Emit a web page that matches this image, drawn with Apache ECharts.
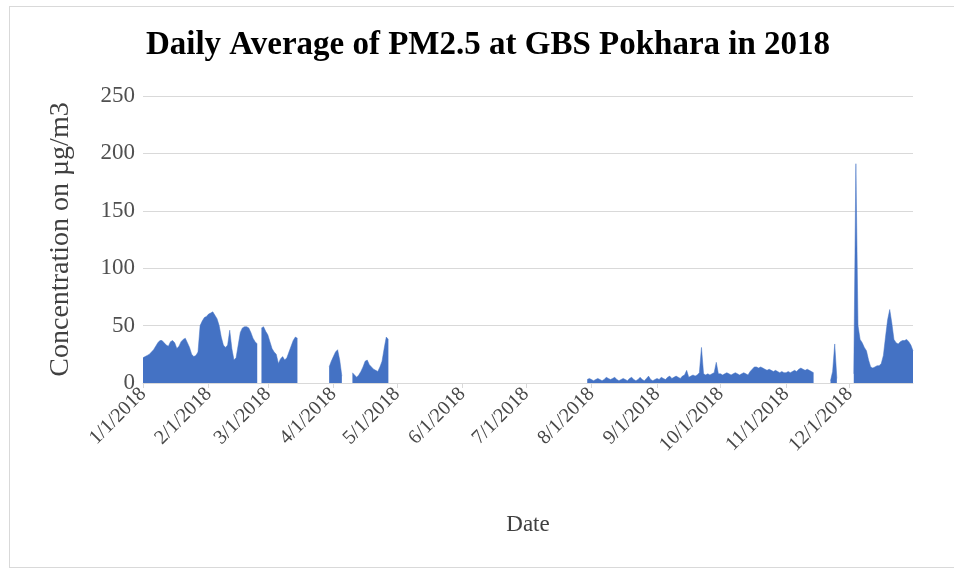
<!DOCTYPE html>
<html>
<head>
<meta charset="utf-8">
<title>Daily Average of PM2.5 at GBS Pokhara in 2018</title>
<script src="https://cdn.jsdelivr.net/npm/echarts@6/dist/echarts.min.js"></script>
<style>
  html, body { margin: 0; padding: 0; background: #fff; }
  #chart { position: absolute; left: 0; top: 0; width: 954px; height: 571px; }
  .frame {
    position: absolute; left: 9px; top: 6px; width: 960px; height: 560px;
    border: 1px solid #d9d9d9; pointer-events: none;
  }
</style>
</head>
<body>
<div id="chart"></div>
<div class="frame"></div>
<script>
// daily PM2.5 (ug/m3), blank days are null
const janToMar = [
  22, 23, 24, 25, 27, 29, 32, 35, 37, 37,
  35, 33, 32, 36, 37, 35, 30, 32, 36, 38,
  39, 35, 31, 25, 23, 24, 27, 50, 54, 57,
  58, 60, 61, 62, 59, 56, 50, 40, 33, 31,
  33, 46, 30, 20, 22, 33, 44, 48, 49, 49,
  48, 44, 39, 36, 34, null, 48, 49, 45, 42,
  36, 30, 27, 25, 17, 21, 23, 20, 22, 27,
  32, 37, 40, 39
];
const lateMar = [14, 19, 23, 27, 29, 20, 6];
const april = [9, 7, 5, 7, 10, 14, 19, 20, 16, 14, 12, 11, 10, 14, 19, 30, 40, 38];
const julToNov = [
  3, 4,
  // Aug
  3, 2, 3, 4, 3, 2, 3, 5, 4, 3, 4, 5, 3, 2, 3, 4, 3, 2, 4, 5, 3, 2, 3, 5, 3, 2, 4, 6, 3, 2, 3,
  // Sep
  4, 3, 5, 4, 3, 5, 6, 4, 5, 6, 5, 4, 6, 7, 11, 5, 6, 7, 6, 7, 9, 31, 8, 7, 8, 7, 8, 9, 18, 8,
  // Oct
  8, 7, 8, 9, 8, 7, 8, 9, 8, 7, 8, 9, 8, 7, 10, 12, 14, 14, 13, 14, 13, 12, 11, 12, 11, 10, 11, 10, 9, 10, 9,
  // Nov
  9, 10, 9, 10, 11, 10, 12, 13, 12, 11, 12, 11, 10, 9
];
const novSpike = [2, 10, 34, 4];
const december = [
  8, 191, 50, 38, 35, 31, 28, 20, 14, 13, 14, 15, 15, 17, 24,
  40, 55, 64, 52, 38, 35, 34, 36, 37, 37, 38, 36, 33, 28
];
const segmentStarts = [
  ['2018-01-01', janToMar],
  ['2018-03-30', lateMar],
  ['2018-04-10', april],
  ['2018-07-30', julToNov],
  ['2018-11-22', novSpike],
  ['2018-12-03', december]
];
const yTicks = [0, 50, 100, 150, 200, 250];

// one category per day of 2018
const dayMs = 24 * 3600 * 1000;
const start = Date.UTC(2018, 0, 1);
const dates = [];
for (let i = 0; i < 365; i++) {
  const d = new Date(start + i * dayMs);
  dates.push((d.getUTCMonth() + 1) + '/' + d.getUTCDate() + '/2018');
}
const values = dates.map(() => null);
segmentStarts.forEach(([s, arr]) => {
  const off = Math.round((Date.parse(s + 'T00:00:00Z') - start) / dayMs);
  arr.forEach((v, i) => { values[off + i] = v; });
});

const isMonthStart = (idx) => dates[idx].split('/')[1] === '1';
const serif = '"Liberation Serif", "DejaVu Serif", serif';

const chart = echarts.init(document.getElementById('chart'));
chart.setOption({
  animation: false,
  title: {
    text: 'Daily Average of PM2.5 at GBS Pokhara in 2018',
    left: 483,
    textAlign: 'center',
    top: 24,
    textStyle: { fontFamily: serif, fontWeight: 'bold', fontSize: 33, color: '#000' }
  },
  grid: { left: 143, right: 41, top: 96, bottom: 188 },
  xAxis: {
    type: 'category',
    data: dates,
    boundaryGap: false,
    name: 'Date',
    nameLocation: 'middle',
    nameGap: 130,
    nameTextStyle: { fontFamily: serif, fontSize: 23, color: '#404040' },
    axisLine: { lineStyle: { color: '#d9d9d9' } },
    axisTick: { interval: isMonthStart, length: 5, lineStyle: { color: '#d9d9d9' } },
    axisLabel: {
      interval: isMonthStart,
      rotate: 45,
      margin: 8,
      fontFamily: serif,
      fontSize: 20,
      color: '#484848'
    },
    splitLine: { show: false }
  },
  yAxis: {
    type: 'value',
    min: yTicks[0],
    max: yTicks[yTicks.length - 1],
    interval: 50,
    name: 'Concentration on µg/m3',
    nameLocation: 'middle',
    nameGap: 68,
    nameTextStyle: { fontFamily: serif, fontSize: 28, color: '#404040' },
    axisLine: { show: false },
    axisTick: { show: false },
    axisLabel: { margin: 8, fontFamily: serif, fontSize: 23, color: '#505050' },
    splitLine: { lineStyle: { color: '#d9d9d9' } }
  },
  series: [{
    type: 'line',
    data: values,
    showSymbol: false,
    connectNulls: false,
    lineStyle: { width: 0.5, color: '#4472c4' },
    areaStyle: { color: '#4472c4', opacity: 1 }
  }]
});
</script>
</body>
</html>
